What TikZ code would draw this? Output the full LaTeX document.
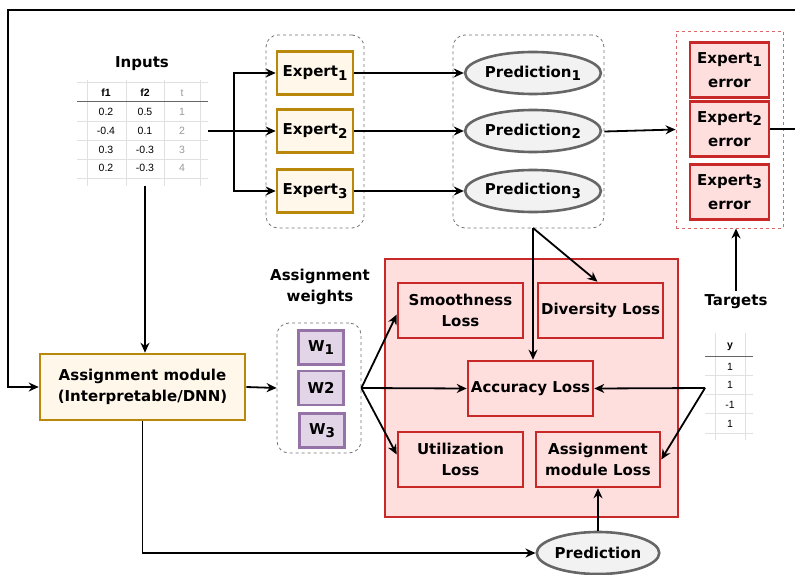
\documentclass[tikz,border=0pt]{standalone}
\usepackage{fontspec}
\setmainfont{DejaVu Sans}
\newfontfamily\tabfont{Liberation Sans}
\usetikzlibrary{positioning, arrows.meta, shapes.geometric, calc}
\definecolor{goldline}{RGB}{185,135,10}
\definecolor{goldfill}{RGB}{255,247,234}
\definecolor{redline}{RGB}{200,40,40}
\definecolor{redfill}{RGB}{255,222,222}
\definecolor{purpline}{RGB}{150,115,166}
\definecolor{purpfill}{RGB}{225,213,231}
\definecolor{predfill}{RGB}{242,242,242}
\definecolor{predline}{RGB}{102,102,102}
\newcommand{\idx}[1]{\raisebox{-0.4ex}{\fontsize{13.5}{10}\selectfont #1}}

\begin{document}
\begin{tikzpicture}[x=1pt, y=-1pt,
  font=\fontsize{15}{21}\selectfont\bfseries,
  conn/.style={line width=1.8pt},
  arr/.style={conn, -{Stealth[length=10pt, width=9pt]}},
  goldbox/.style={draw=goldline, fill=goldfill, line width=2.6pt, align=center, inner sep=0pt},
  redbox/.style={draw=redline, fill=redfill, line width=2.6pt, align=center, inner sep=0pt, minimum width=125, minimum height=55},
  errbox/.style={redbox, minimum width=79, minimum height=55},
  wbox/.style={draw=purpline, fill=purpfill, line width=2.6pt, minimum width=45, minimum height=34, inner sep=0pt},
  predell/.style={ellipse, draw=predline, fill=predfill, line width=2.6pt, minimum width=120, minimum height=42, inner sep=0pt},
  grp/.style={draw=black!55, dashed, rounded corners=12pt, line width=0.8pt},
  tabtxt/.style={font=\tabfont\fontsize{10.5}{11}\selectfont, inner sep=0pt},
  tabhead/.style={tabtxt, font=\tabfont\fontsize{10.5}{11}\selectfont\bfseries},
  grid/.style={draw=black!12, line width=0.7pt}]
\useasboundingbox (0,0) rectangle (795,575);

% input table
\node (inlbl) at (142,64) {Inputs};
\foreach \xx in {87,126,164,200} \draw[grid] (\xx,80) -- (\xx,186);
\foreach \yy in {82,121,140,159,178} \draw[grid] (77,\yy) -- (208,\yy);
\draw[black!60, line width=1pt] (77,102) -- (208,102);
\node[tabhead] (hf1) at (106,93) {f1};
\node[tabhead] (hf2) at (145,93) {f2};
\node[tabtxt, text=black!40] (ht) at (182,93) {t};
\foreach \a/\b/\c/\yy [count=\i] in {0.2/0.5/1/112, -0.4/0.1/2/131, 0.3/-0.3/3/150, 0.2/-0.3/4/168} {
  \node[tabtxt] (fa\i) at (106,\yy) {\a};
  \node[tabtxt] (fb\i) at (145,\yy) {\b};
  \node[tabtxt, text=black!40] (tc\i) at (182,\yy) {\c};
}
\coordinate (intabE) at (208,131);
\coordinate (intabS) at (145,186);
\coordinate (split) at (234,131);

% experts and predictions
\node[grp, minimum width=98, minimum height=193] (expgrp) at (315,131.5) {};
\node[grp, minimum width=151, minimum height=193] (predgrp) at (528.5,131.5) {};
\foreach \i/\yy in {1/73, 2/131, 3/191} {
  \node[goldbox, minimum width=76, minimum height=43] (exp\i) at (315,\yy) {Expert\idx{\i}};
  \node[predell] (pred\i) at (533,\yy) {Prediction\idx{\i}};
  \draw[arr] (exp\i) -- (pred\i);
  \draw[arr] (split) |- (exp\i.west);
}
\draw[conn] (intabE) -- (split);

% expert errors
\node[draw=redline!70, dashed, line width=0.9pt, minimum width=107, minimum height=197] (errgrp) at (729.5,129.5) {};
\node[errbox] (err1) at (729.5,70) {Expert\idx{1}\\[3pt]error};
\node[errbox] (err2) at (729.5,129) {Expert\idx{2}\\[3pt]error};
\node[errbox] (err3) at (729.5,192) {Expert\idx{3}\\[3pt]error};
\draw[arr] (predgrp.east) -- (errgrp.west);

% targets
\node (tgt) at (736,302) {Targets};
\draw[arr] (tgt.north) -- (errgrp.south -| tgt.north);
\foreach \xx in {715,745} \draw[grid] (\xx,333) -- (\xx,440);
\foreach \yy in {375,394,413,433} \draw[grid] (705,\yy) -- (753,\yy);
\draw[black!60, line width=1pt] (705,356) -- (753,356);
\node[tabhead] (hy) at (730,347) {y};
\foreach \v/\yy [count=\i] in {1/367, 1/385, -1/405, 1/424}
  \node[tabtxt] (yv\i) at (730,\yy) {\v};
\coordinate (ytab) at (705,388);

% assignment module and weights
\node[goldbox, minimum width=205, minimum height=66] (assign) at (142.5,387) {Assignment module\\(Interpretable/DNN)};
\node[align=center] (wlbl) at (320,287) {Assignment\\weights};
\node[grp, minimum width=84, minimum height=130] (wgrp) at (319,388) {};
\node[wbox] (w1) at (321,347.5) {W\idx{1}};
\node[wbox] (w2) at (321,388) {W2};
\node[wbox] (w3) at (322,430.5) {W\idx{3}};

% losses
\node[draw=redline, fill=redfill, line width=2.6pt, minimum width=293, minimum height=258] (losses) at (531.5,388) {};
\node[redbox] (smooth) at (460.5,310.5) {Smoothness\\Loss};
\node[redbox] (divers) at (600.5,310.5) {Diversity Loss};
\node[redbox] (acc) at (530.5,388.5) {Accuracy Loss};
\node[redbox] (util) at (460.5,459.5) {Utilization\\Loss};
\node[redbox, minimum width=124] (aml) at (598,459.5) {Assignment\\module Loss};
\node[predell] (predout) at (598,553) {Prediction};
\coordinate (pgbot) at (533,228);

% connectors
\coordinate (loopTR) at (800,10);
\coordinate (loopTL) at (8,10);
\draw[arr] (err2.east) -| (loopTR) -- (loopTL) |- (assign.west);
\draw[arr] (intabS) -- (intabS |- assign.north);
\draw[arr] (assign.east) -- (wgrp.west);
\draw[arr] (wgrp.east) -- ($(smooth.west)+(0,4)$);
\draw[arr] (wgrp.east) -- (acc.west);
\draw[arr] (wgrp.east) -- ($(util.west)+(0,-5)$);
\draw[arr] (pgbot) -- (pgbot |- acc.north);
\draw[arr] (pgbot) -- ($(divers.north)+(-3,0)$);
\draw[arr] (ytab) -- (acc.east);
\draw[arr] (ytab) -- (aml.east);
\draw[arr] (assign.south) |- (predout.west);
\draw[arr] (predout.north) -- (aml.south);
\end{tikzpicture}
\end{document}
